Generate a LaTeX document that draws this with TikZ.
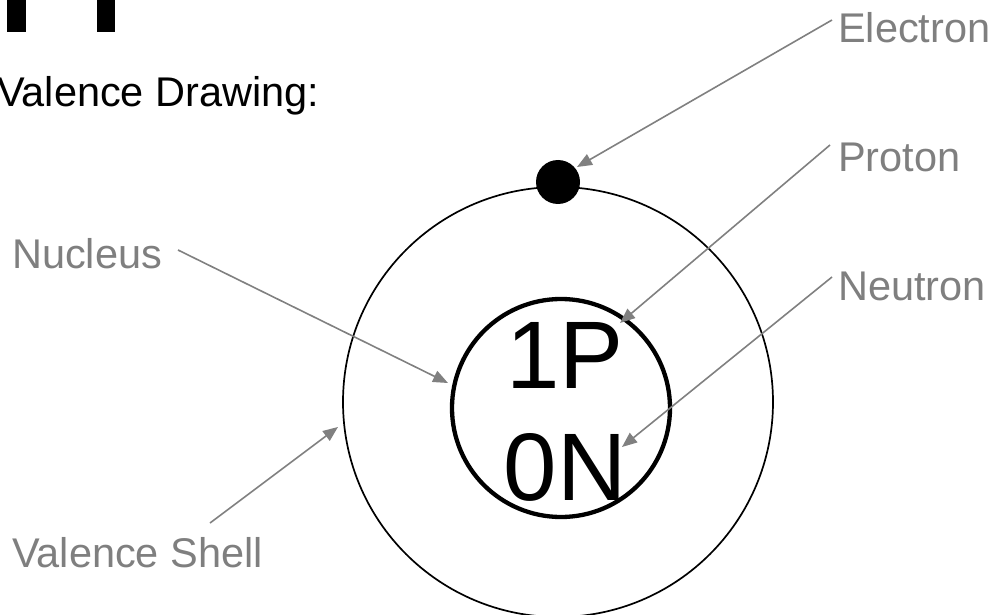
\documentclass[tikz,border=0pt]{standalone}
\usepackage{fontspec}
\setmainfont{Liberation Sans}
\usetikzlibrary{arrows.meta, positioning}
\definecolor{labelGray}{HTML}{7F7F7F}
\definecolor{lineGray}{HTML}{808080}
\tikzset{
  arrowG/.style={-{Triangle[length=15pt, width=12pt]}, color=lineGray, line width=1.6pt},
  lblGray/.style={anchor=base west, inner sep=0pt, text=labelGray,
                  font=\fontsize{41.5}{50}\selectfont},
  shellC/.style={circle, draw=black, line width=1.7pt, inner sep=0pt},
}

\begin{document}
\begin{tikzpicture}[x=1pt, y=-1pt]
    \useasboundingbox (0,0) rectangle (994,615);
    % cut off title letters
    \fill[black] (7,0) rectangle (26,32);
    \fill[black] (97,0) rectangle (115,32);
    \node[anchor=base west, inner sep=0pt, font=\fontsize{41.5}{50}\selectfont]
          (title) at (-3,107) {Valence Drawing:};
    % atom
    \node[shellC, minimum size=430pt] (shell) at (558,402) {};
    \node[shellC, line width=4.3pt, minimum size=218pt] (nucleus) at (561,408) {};
    \node[circle, fill=black, inner sep=0pt, minimum size=44pt] (electron) at (558,182) {};
    \node[anchor=base, inner sep=0pt, font=\fontsize{96}{100}\selectfont]
          (protons) at (565,388) {1P};
    \node[anchor=base, inner sep=0pt, font=\fontsize{96}{100}\selectfont]
          (neutrons) at (565,500) {0N};
    % labels
    \node[lblGray] (lblElectron) at (838,43) {Electron};
    \node[lblGray] (lblProton) at (838,172) {Proton};
    \node[lblGray] (lblNeutron) at (838,300) {Neutron};
    \node[lblGray] (lblNucleus) at (12,268) {Nucleus};
    \node[lblGray] (lblShell) at (12,567) {Valence Shell};
    % arrow ends
    \coordinate (eTail) at (832,20);
    \coordinate (eTip) at (577,167);
    \coordinate (pTail) at (830,145);
    \coordinate (pTip) at (620,323);
    \coordinate (nTail) at (832,277);
    \coordinate (nTip) at (622,447);
    \coordinate (nucTail) at (178,250);
    \coordinate (nucTip) at (448,383);
    \coordinate (sTail) at (210,523);
    \coordinate (sTip) at (338,427);
    \draw[arrowG] (eTail) -- (eTip);
    \draw[arrowG] (pTail) -- (pTip);
    \draw[arrowG] (nTail) -- (nTip);
    \draw[arrowG] (nucTail) -- (nucTip);
    \draw[arrowG] (sTail) -- (sTip);
\end{tikzpicture}
\end{document}
